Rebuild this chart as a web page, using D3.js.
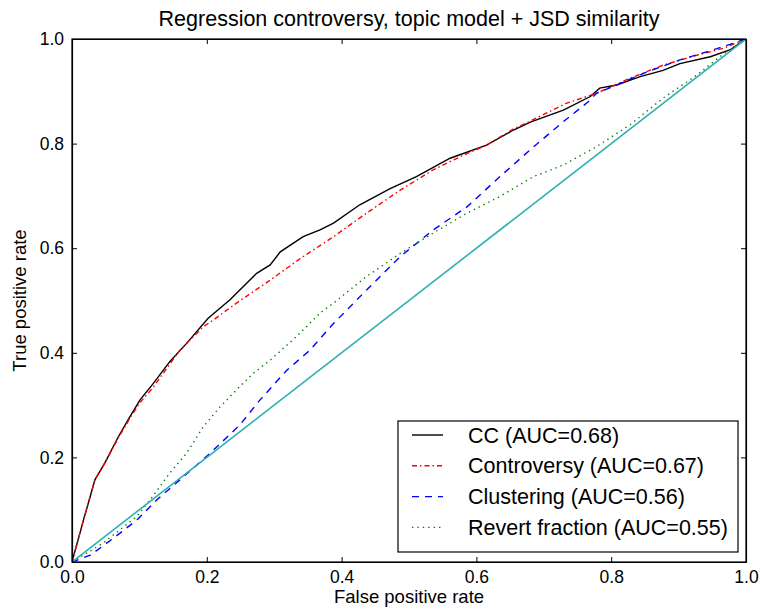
<!DOCTYPE html>
<html>
<head>
<meta charset="utf-8">
<script src="https://cdn.jsdelivr.net/npm/d3@7"></script>
<style>
  body { margin: 0; background: #fff; }
  text { font-family: "Liberation Sans", Arial, sans-serif; fill: #000; }
</style>
</head>
<body>
<div class="vis-roc"></div>
<script>
// ROC curves, [false positive rate, true positive rate]
const ccPoints = [[0,0],[0.017,0.08],[0.034,0.157],[0.049,0.19],[0.069,0.24],[0.086,0.278],[0.101,0.31],
  [0.121,0.342],[0.145,0.383],[0.17,0.418],[0.202,0.466],[0.234,0.501],[0.274,0.552],[0.294,0.568],
  [0.309,0.593],[0.343,0.622],[0.368,0.635],[0.388,0.648],[0.427,0.683],[0.472,0.714],[0.511,0.737],
  [0.561,0.772],[0.615,0.797],[0.655,0.826],[0.68,0.841],[0.729,0.864],[0.769,0.89],[0.783,0.906],
  [0.808,0.912],[0.843,0.928],[0.877,0.94],[0.902,0.953],[0.947,0.966],[0.976,0.979],[1,1]];
const controversyPoints = [[0,0],[0.017,0.08],[0.034,0.157],[0.049,0.19],[0.069,0.238],[0.086,0.275],
  [0.101,0.305],[0.121,0.335],[0.16,0.405],[0.195,0.45],[0.21,0.463],[0.244,0.495],[0.294,0.539],
  [0.343,0.584],[0.368,0.605],[0.388,0.622],[0.437,0.667],[0.487,0.711],[0.536,0.75],[0.586,0.781],
  [0.615,0.797],[0.655,0.828],[0.68,0.843],[0.733,0.877],[0.778,0.896],[0.828,0.925],[0.877,0.95],
  [0.927,0.969],[0.966,0.982],[1,1]];
const clusteringPoints = [[0,0],[0.027,0.013],[0.061,0.045],[0.096,0.08],[0.126,0.119],[0.16,0.157],
  [0.205,0.208],[0.249,0.262],[0.279,0.31],[0.319,0.367],[0.353,0.405],[0.388,0.456],[0.437,0.52],
  [0.487,0.584],[0.536,0.635],[0.586,0.679],[0.635,0.737],[0.685,0.794],[0.729,0.842],[0.766,0.88],
  [0.778,0.896],[0.808,0.912],[0.853,0.937],[0.902,0.96],[0.951,0.979],[1,1]];
const revertPoints = [[0,0],[0.046,0.036],[0.096,0.087],[0.116,0.119],[0.145,0.17],[0.17,0.208],
  [0.195,0.259],[0.22,0.297],[0.244,0.329],[0.269,0.361],[0.294,0.386],[0.333,0.431],[0.368,0.476],
  [0.388,0.495],[0.437,0.546],[0.487,0.59],[0.536,0.629],[0.586,0.667],[0.635,0.699],[0.685,0.737],
  [0.729,0.759],[0.778,0.794],[0.828,0.836],[0.877,0.887],[0.927,0.931],[0.961,0.966],[0.986,0.989],[1,1]];
const chancePoints = [[0,0],[1,1]];

const seriesNames = ['CC (AUC=0.68)', 'Controversy (AUC=0.67)', 'Clustering (AUC=0.56)', 'Revert fraction (AUC=0.55)'];
const tickValues = [0, 0.2, 0.4, 0.6, 0.8, 1.0];

const series = [
  {name: seriesNames[0], pts: ccPoints, color: '#000000', dash: null},
  {name: seriesNames[1], pts: controversyPoints, color: '#ff0000', dash: '5,3,1.5,3'},
  {name: seriesNames[2], pts: clusteringPoints, color: '#0000ff', dash: '7,6'},
  {name: seriesNames[3], pts: revertPoints, color: '#008000', dash: '1.4,4'}
];

const outerWidth = 764, outerHeight = 610;
const margin = {top: 39, right: 18, bottom: 48, left: 72};
const width = outerWidth - margin.left - margin.right;
const height = outerHeight - margin.top - margin.bottom;

const root = d3.select('.vis-roc').append('svg')
  .attr('width', outerWidth)
  .attr('height', outerHeight);
const svg = root.append('g')
  .attr('transform', 'translate(' + margin.left + ',' + margin.top + ')');

const x = d3.scaleLinear().domain([0, 1]).range([0, width]);
const y = d3.scaleLinear().domain([0, 1]).range([height, 0]);

const line = d3.line().x(d => x(d[0])).y(d => y(d[1]));

// curves (clipped to the axes)
root.append('clipPath').attr('id', 'clip')
  .append('rect').attr('width', width).attr('height', height);
const plot = svg.append('g').attr('clip-path', 'url(#clip)');

series.forEach(s => {
  plot.append('path')
    .datum(s.pts)
    .attr('fill', 'none')
    .attr('stroke', s.color)
    .attr('stroke-width', 1.4)
    .attr('stroke-dasharray', s.dash)
    .attr('d', line);
});

plot.append('path')
  .datum(chancePoints)
  .attr('fill', 'none')
  .attr('stroke', '#2eb0b0')
  .attr('stroke-width', 1.6)
  .attr('d', line);

// axes: ticks pointing inward on all four sides
const fmt = d3.format('.1f');
svg.append('g')
  .attr('transform', 'translate(0,' + height + ')')
  .call(d3.axisBottom(x).tickValues(tickValues).tickFormat(fmt).tickSizeInner(-5).tickSizeOuter(0).tickPadding(9));
svg.append('g')
  .call(d3.axisTop(x).tickValues(tickValues).tickFormat('').tickSizeInner(-5).tickSizeOuter(0));
svg.append('g')
  .call(d3.axisLeft(y).tickValues(tickValues).tickFormat(fmt).tickSizeInner(-5).tickSizeOuter(0).tickPadding(8));
svg.append('g')
  .attr('transform', 'translate(' + width + ',0)')
  .call(d3.axisRight(y).tickValues(tickValues).tickFormat('').tickSizeInner(-5).tickSizeOuter(0));

svg.selectAll('.domain').attr('stroke', '#000').attr('stroke-width', 1.2);
svg.selectAll('.tick line').attr('stroke', '#000');
svg.selectAll('.tick text').style('font-size', '17.5px').style('font-family', '"Liberation Sans", Arial, sans-serif');

svg.append('rect')
  .attr('width', width).attr('height', height)
  .attr('fill', 'none').attr('stroke', '#000').attr('stroke-width', 1.2);

// title and axis labels
root.append('text')
  .attr('x', margin.left + width / 2).attr('y', 26)
  .attr('text-anchor', 'middle').style('font-size', '21.5px')
  .text('Regression controversy, topic model + JSD similarity');
root.append('text')
  .attr('x', margin.left + width / 2).attr('y', 603)
  .attr('text-anchor', 'middle').style('font-size', '18.5px')
  .text('False positive rate');
root.append('text')
  .attr('transform', 'translate(26,' + (margin.top + height / 2) + ') rotate(-90)')
  .attr('text-anchor', 'middle').style('font-size', '18.5px')
  .text('True positive rate');

// legend
const legend = svg.append('g')
  .attr('transform', 'translate(' + (398 - margin.left) + ',' + (421 - margin.top) + ')');
legend.append('rect')
  .attr('width', 340).attr('height', 131)
  .attr('fill', '#fff').attr('stroke', '#000').attr('stroke-width', 1.2);
series.forEach((s, i) => {
  const cy = 14 + i * 30.8;
  legend.append('line')
    .attr('x1', 14).attr('x2', 45).attr('y1', cy).attr('y2', cy)
    .attr('stroke', s.color).attr('stroke-width', 1.4)
    .attr('stroke-dasharray', s.dash);
  legend.append('text')
    .attr('x', 70).attr('y', cy + 7.5)
    .style('font-size', '21.5px')
    .text(s.name);
});
</script>
</body>
</html>
